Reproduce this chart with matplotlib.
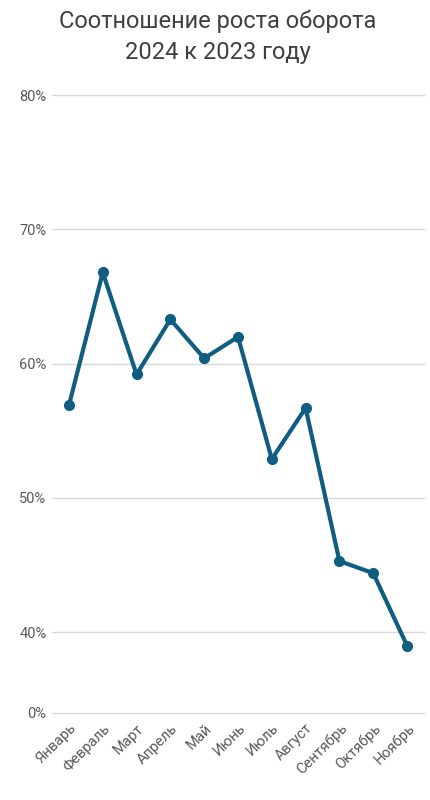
import matplotlib.pyplot as plt
import numpy as np

plt.rcParams['font.family'] = ['Roboto', 'DejaVu Sans']

months = ['Январь', 'Февраль', 'Март', 'Апрель', 'Май', 'Июнь',
          'Июль', 'Август', 'Сентябрь', 'Октябрь', 'Ноябрь']
ratio = [56.9, 66.8, 59.2, 63.3, 60.4, 62.0, 52.9, 56.7, 45.3, 44.4, 39.0]
yticks = [0, 40, 50, 60, 70, 80]
ytick_labels = ['0%', '40%', '50%', '60%', '70%', '80%']

# broken axis: everything under 36% squeezed into a thin band
def fwd(v):
    v = np.asarray(v, dtype=float)
    return np.where(v >= 36, v, 34 + v * 2 / 36)

def inv(y):
    y = np.asarray(y, dtype=float)
    return np.where(y >= 36, y, (y - 34) * 18)

fig = plt.figure(figsize=(4.3, 8), dpi=100)
ax = fig.add_axes([0.121, 0.109, 0.865, 0.772])

ax.set_yscale('function', functions=(fwd, inv))
x = np.arange(len(months))
ax.plot(x, ratio, color='#0f5e82', lw=3, marker='o', ms=7, zorder=3)

ax.set_xlim(-0.5, len(months) - 0.5)
ax.set_ylim(0, 80)
ax.set_yticks(yticks)
ax.set_yticklabels(ytick_labels)
ax.minorticks_off()
ax.set_xticks(x)
ax.set_xticklabels(months, rotation=45, ha='right', rotation_mode='anchor')

ax.grid(axis='y', color='#d9d9d9', lw=1)
for gl in ax.get_ygridlines():
    gl.set_clip_on(False)
ax.set_axisbelow(True)
for s in ax.spines.values():
    s.set_visible(False)
ax.tick_params(axis='both', length=0, colors='#595959', labelsize=10.5)
ax.tick_params(axis='y', pad=4)
ax.tick_params(axis='x', pad=6)

fig.text(0.507, 0.988, 'Соотношение роста оборота\n2024 к 2023 году',
         ha='center', va='top', fontsize=17, color='#404040', linespacing=1.45)

fig.savefig('out.png', dpi=100)
